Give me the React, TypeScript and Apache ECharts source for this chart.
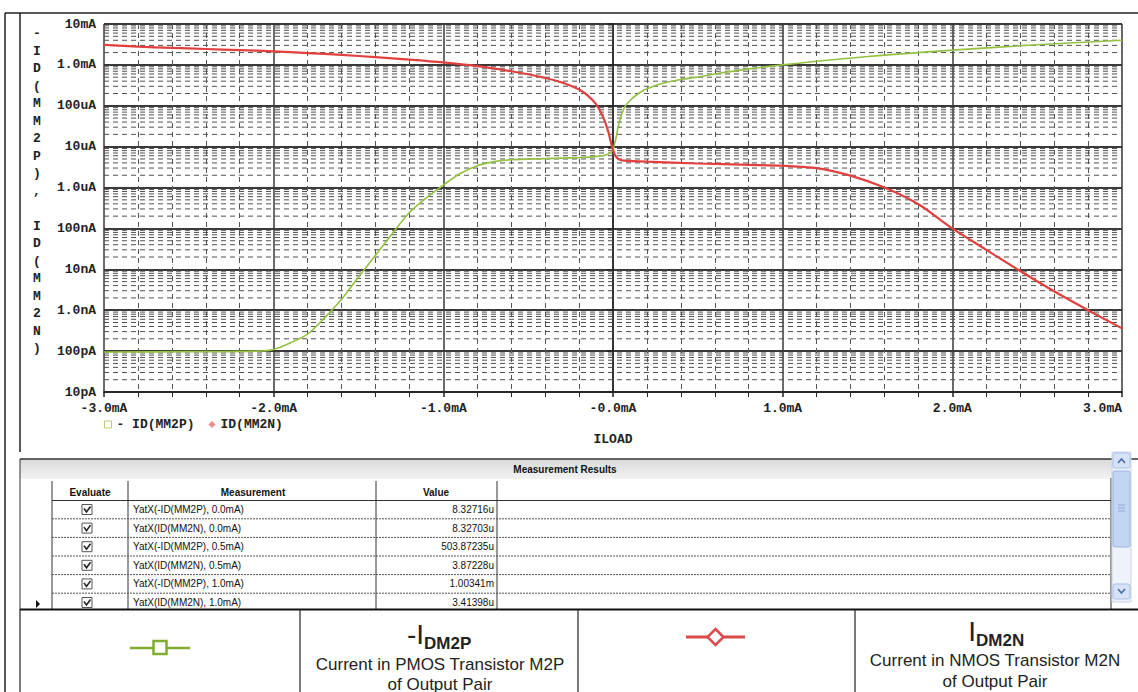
import React, { useEffect, useRef } from 'react';
import * as echarts from 'echarts';

// ---------- data ----------
const xTickLabels = ['-3.0mA', '-2.0mA', '-1.0mA', '-0.0mA', '1.0mA', '2.0mA', '3.0mA'];
const yTickLabels = ['10pA', '100pA', '1.0nA', '10nA', '100nA', '1.0uA', '10uA', '100uA', '1.0mA', '10mA'];
const yExpMin = -11;
const yExpMax = -2;
const xMin = -3;
const xMax = 3;

const seriesNames = ['- ID(MM2P)', 'ID(MM2N)'];

const iloadP = [-3.0, -2.5, -2.1, -2.0, -1.9, -1.8, -1.7, -1.6, -1.5, -1.4, -1.3, -1.2, -1.1, -1.0, -0.9, -0.8, -0.7, -0.6, -0.4, -0.2, -0.1, -0.03, 0.0, 0.01, 0.02, 0.03, 0.05, 0.07, 0.1, 0.15, 0.2, 0.3, 0.4, 0.5, 0.6, 0.8, 1.0, 1.5, 2.0, 2.5, 3.0];
const idMM2P = [9.5e-11, 9.7e-11, 1.0e-10, 1.1e-10, 1.6e-10, 2.6e-10, 6.5e-10, 1.85e-9, 6.5e-9, 2.2e-8, 7.5e-8, 2.45e-7, 5.6e-7, 1.15e-6, 2.2e-6, 3.4e-6, 4.3e-6, 4.8e-6, 5.1e-6, 5.4e-6, 5.7e-6, 6.5e-6, 8.33e-6, 1.2e-5, 1.8e-5, 3.0e-5, 6.0e-5, 9.5e-5, 1.35e-4, 2.0e-4, 2.6e-4, 3.6e-4, 4.4e-4, 5.04e-4, 6.0e-4, 8.0e-4, 1.0e-3, 1.6e-3, 2.3e-3, 3.1e-3, 4.0e-3];

const iloadN = [-3.0, -2.8, -2.6, -2.4, -2.2, -2.0, -1.8, -1.6, -1.4, -1.2, -1.0, -0.8, -0.6, -0.5, -0.4, -0.3, -0.2, -0.15, -0.1, -0.06, -0.03, 0.0, 0.02, 0.05, 0.2, 0.5, 0.8, 1.0, 1.2, 1.4, 1.6, 1.8, 2.0, 2.2, 2.4, 2.6, 2.8, 3.0];
const idMM2N = [3.1e-3, 2.8e-3, 2.6e-3, 2.45e-3, 2.3e-3, 2.15e-3, 1.95e-3, 1.75e-3, 1.55e-3, 1.35e-3, 1.15e-3, 9.3e-4, 7.0e-4, 5.9e-4, 4.8e-4, 3.7e-4, 2.5e-4, 1.8e-4, 1.1e-4, 5.5e-5, 2.5e-5, 8.33e-6, 5.5e-6, 4.6e-6, 4.3e-6, 3.87e-6, 3.6e-6, 3.41e-6, 3.0e-6, 1.96e-6, 1.0e-6, 3.9e-7, 1.0e-7, 3.0e-8, 9.1e-9, 2.9e-9, 1.0e-9, 3.6e-10];

const yAxisTitle = '-ID(MM2P), ID(MM2N)';
const xAxisTitle = 'ILOAD';

const measNames = ['YatX(-ID(MM2P), 0.0mA)', 'YatX(ID(MM2N), 0.0mA)', 'YatX(-ID(MM2P), 0.5mA)', 'YatX(ID(MM2N), 0.5mA)', 'YatX(-ID(MM2P), 1.0mA)', 'YatX(ID(MM2N), 1.0mA)'];
const measValues = ['8.32716u', '8.32703u', '503.87235u', '3.87228u', '1.00341m', '3.41398u'];

const GREEN = '#93c141';
const RED = '#e2403f';
const GRID = '#3a3a3a';
const MONO = 'Liberation Mono, DejaVu Sans Mono, monospace';
const SANS = 'Liberation Sans, Arial, sans-serif';

function buildGraphics() {
  const g: any[] = [];
  const line = (x1: number, y1: number, x2: number, y2: number, stroke = '#222', lineWidth = 1, dash?: any) =>
    g.push({ type: 'line', shape: { x1, y1, x2, y2 }, style: { stroke, lineWidth, lineDash: dash }, silent: true });
  const text = (t: string, x: number, y: number, font: string, align = 'center', fill = '#111', vAlign = 'middle') =>
    g.push({ type: 'text', x, y, silent: true, style: { text: t, font, fill, align, textAlign: align, verticalAlign: vAlign, textVerticalAlign: vAlign } });

  // frame
  line(5, 13, 1138, 13, '#222', 1.5);
  line(5, 13, 5, 692, '#222', 1.5);
  line(20, 13, 20, 452, '#222', 1.5);

  // y axis title, stacked characters
  g.push({
    type: 'text', x: 37, y: 25, silent: true,
    style: { text: yAxisTitle.split('').join('\n'), font: 'bold 13px ' + MONO, fill: '#222', align: 'center', textAlign: 'center', verticalAlign: 'top', textVerticalAlign: 'top', lineHeight: 17.5 },
  });

  // ---- measurement table ----
  g.push({
    type: 'rect', shape: { x: 20, y: 459, width: 1092, height: 20 }, silent: true,
    style: { fill: new echarts.graphic.LinearGradient(0, 0, 0, 1, [{ offset: 0, color: '#d9d9d9' }, { offset: 1, color: '#f3f3f3' }]) },
  });
  line(20, 459, 1138, 459, '#333', 1.5);
  line(20, 459, 20, 609, '#333', 1);
  text('Measurement Results', 565, 469, 'bold 10px ' + SANS);
  const colX = [52, 128, 376, 497];
  colX.forEach((x) => line(x, 481, x, 609, '#333', 1));
  line(1111, 478, 1111, 609, '#333', 1);
  text('Evaluate', 90, 492, 'bold 10px ' + SANS);
  text('Measurement', 253, 492, 'bold 10px ' + SANS);
  text('Value', 436, 492, 'bold 10px ' + SANS);
  line(52, 500.5, 1111, 500.5, '#333', 1.2);
  const rowH = 18.6;
  measNames.forEach((name, i) => {
    const cy = 509.5 + i * rowH;
    if (i < measNames.length - 1) line(52, cy + rowH / 2, 1111, cy + rowH / 2, '#555', 1, [2, 1]);
    text(name, 133, cy, '10px ' + SANS, 'left');
    text(measValues[i], 494, cy, '10px ' + SANS, 'right');
    g.push({ type: 'rect', shape: { x: 82, y: cy - 5, width: 10, height: 10 }, silent: true, style: { fill: '#fff', stroke: '#555', lineWidth: 1 } });
    g.push({ type: 'polyline', shape: { points: [[84, cy - 1], [86.5, cy + 2.5], [90.5, cy - 3]] }, silent: true, style: { stroke: '#222', lineWidth: 1.6, fill: null } });
  });
  g.push({ type: 'polygon', shape: { points: [[36, 600], [36, 608], [40, 604]] }, silent: true, style: { fill: '#111' } });

  // scrollbar
  g.push({ type: 'rect', shape: { x: 1112, y: 452, width: 19, height: 150 }, silent: true, style: { fill: '#eef2f9', stroke: '#c9d4e6', lineWidth: 1 } });
  g.push({ type: 'rect', shape: { x: 1113, y: 453, width: 17, height: 15, r: 2 }, silent: true, style: { fill: '#d6e3f7', stroke: '#a9bfe3', lineWidth: 1 } });
  g.push({ type: 'polyline', shape: { points: [[1118, 463], [1121.5, 459], [1125, 463]] }, silent: true, style: { stroke: '#4a6aa8', lineWidth: 1.6, fill: null } });
  g.push({ type: 'rect', shape: { x: 1113, y: 471, width: 17, height: 76, r: 2 }, silent: true, style: { fill: '#c2d5f2', stroke: '#9fb6df', lineWidth: 1 } });
  [505, 508, 511].forEach((y) => line(1118, y, 1125, y, '#8ea6d2', 1));
  g.push({ type: 'rect', shape: { x: 1113, y: 584, width: 17, height: 15, r: 2 }, silent: true, style: { fill: '#d6e3f7', stroke: '#a9bfe3', lineWidth: 1 } });
  g.push({ type: 'polyline', shape: { points: [[1118, 589], [1121.5, 593], [1125, 589]] }, silent: true, style: { stroke: '#4a6aa8', lineWidth: 1.6, fill: null } });

  // ---- legend table ----
  line(20, 609.5, 1138, 609.5, '#111', 2);
  [20, 300, 578, 855].forEach((x) => line(x, 609, x, 692, '#222', 1.2));
  line(130, 648, 190, 648, '#7fae2e', 2.5);
  g.push({ type: 'rect', shape: { x: 153.5, y: 641, width: 13, height: 13 }, silent: true, style: { fill: '#fff', stroke: '#7fae2e', lineWidth: 2.5 } });
  line(686, 637, 745, 637, '#dc4b4b', 3);
  g.push({ type: 'polygon', shape: { points: [[715.5, 629], [723.5, 637], [715.5, 645], [707.5, 637]] }, silent: true, style: { fill: '#fff', stroke: '#dc4b4b', lineWidth: 2.5 } });

  text('-I', 424, 634, '28px ' + SANS, 'right', '#222');
  text('DM2P', 424, 643, 'bold 17px ' + SANS, 'left', '#222');
  text('Current in PMOS Transistor M2P', 440, 664, '17px ' + SANS, 'center', '#222');
  text('of Output Pair', 440, 684, '17px ' + SANS, 'center', '#222');

  text('I', 976, 631, '28px ' + SANS, 'right', '#222');
  text('DM2N', 976, 640, 'bold 17px ' + SANS, 'left', '#222');
  text('Current in NMOS Transistor M2N', 995, 660, '17px ' + SANS, 'center', '#222');
  text('of Output Pair', 995, 681, '17px ' + SANS, 'center', '#222');
  return g;
}

function buildOption() {
  // minor log grid (2..9 x 10^e), drawn as one broken line series through the log axis
  const minorGrid: any[] = [];
  for (let e = yExpMin; e < yExpMax; e++) {
    for (let k = 2; k <= 9; k++) {
      const v = k * Math.pow(10, e);
      minorGrid.push([xMin, v], [xMax, v], [xMax, '-']);
    }
  }
  const zip = (xs: number[], ys: number[]) => xs.map((x, i) => [x, ys[i]]);
  return {
    animation: false,
    backgroundColor: '#fff',
    grid: { left: 104, right: 16, top: 24, bottom: 300, containLabel: false },
    legend: {
      left: 104, top: 418, padding: 0, itemGap: 14, itemWidth: 7, itemHeight: 7,
      textStyle: { fontFamily: MONO, fontWeight: 'bold', fontSize: 13, color: '#222' },
      data: [
        { name: seriesNames[0], icon: 'rect', itemStyle: { color: '#fff', borderColor: '#b5d070', borderWidth: 1 } },
        { name: seriesNames[1], icon: 'diamond', itemStyle: { color: '#f08a8a', borderWidth: 0 } },
      ],
    },
    xAxis: {
      type: 'value', min: xMin, max: xMax, interval: 1,
      name: xAxisTitle, nameLocation: 'middle', nameGap: 41,
      nameTextStyle: { fontFamily: MONO, fontWeight: 'bold', fontSize: 13, color: '#222' },
      axisLine: { show: true, onZero: false, lineStyle: { color: '#222', width: 1.5 } },
      axisTick: { show: true, length: 5, lineStyle: { color: '#222', width: 1.5 } },
      minorTick: { show: true, splitNumber: 5, length: 5, lineStyle: { color: '#222' } },
      axisLabel: {
        margin: 10, fontFamily: MONO, fontWeight: 'bold', fontSize: 13, color: '#222', alignMaxLabel: 'right',
        formatter: (v: number) => xTickLabels[Math.round(v) - xMin] ?? '',
      },
      splitLine: { show: true, lineStyle: { color: GRID, width: 1.5 } },
      minorSplitLine: { show: true, lineStyle: { color: '#555', width: 1, type: [5, 4] } },
    },
    yAxis: {
      type: 'log', logBase: 10, min: Math.pow(10, yExpMin), max: Math.pow(10, yExpMax), splitNumber: 9,
      axisLine: { show: true, lineStyle: { color: '#222', width: 1.5 } },
      axisTick: { show: true, length: 6, lineStyle: { color: '#222', width: 1.5 } },
      axisLabel: {
        margin: 8, fontFamily: MONO, fontWeight: 'bold', fontSize: 13, color: '#222',
        formatter: (v: number) => yTickLabels[Math.round(Math.log10(v)) - yExpMin] ?? '',
      },
      splitLine: { show: true, lineStyle: { color: GRID, width: 2 } },
    },
    graphic: { elements: buildGraphics() },
    series: [
      {
        name: '__minor', type: 'line', z: 1, silent: true, showSymbol: false, connectNulls: false,
        data: minorGrid,
        lineStyle: { color: '#505050', width: 1, type: [5, 4] },
      },
      {
        name: seriesNames[0], type: 'line', data: zip(iloadP, idMM2P), showSymbol: false, smooth: 0.3, z: 5,
        lineStyle: { color: GREEN, width: 1.6 }, itemStyle: { color: GREEN },
      },
      {
        name: seriesNames[1], type: 'line', data: zip(iloadN, idMM2N), showSymbol: false, smooth: 0.3, z: 6,
        lineStyle: { color: RED, width: 2.2 }, itemStyle: { color: RED },
      },
    ],
  };
}

export default function App() {
  const ref = useRef<HTMLDivElement>(null);
  useEffect(() => {
    document.body.style.margin = '0';
    if (!ref.current) return;
    const chart = echarts.init(ref.current, undefined, { renderer: 'svg' });
    chart.setOption(buildOption() as any);
    return () => chart.dispose();
  }, []);
  return <div ref={ref} style={{ width: 1138, height: 692 }} />;
}
